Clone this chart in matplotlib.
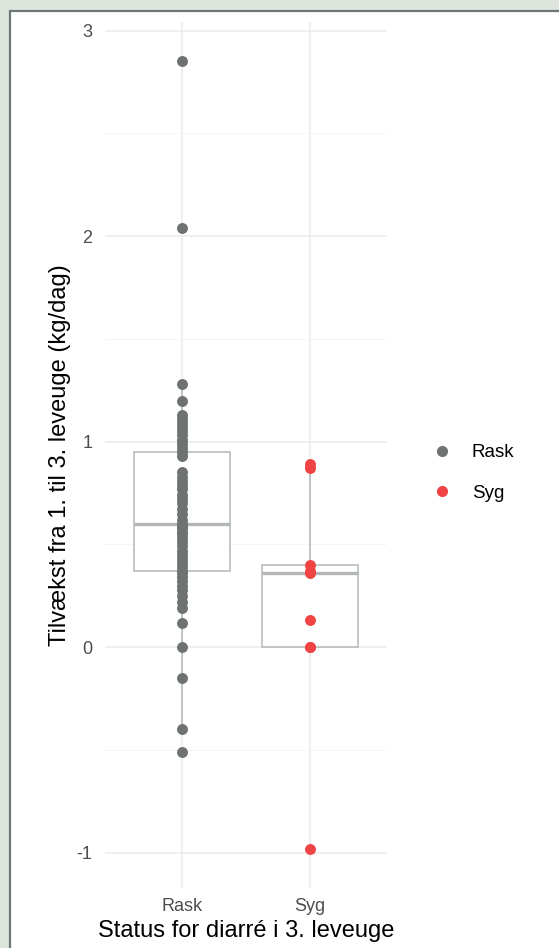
import numpy as np
import matplotlib.pyplot as plt
from matplotlib.patches import Rectangle
from matplotlib.lines import Line2D

plt.rcParams['font.family'] = ['Liberation Sans', 'DejaVu Sans']

groups = ['Rask', 'Syg']
colors = ['#6E7272', '#F04343']

rask = [-0.51, -0.40, -0.15, 0.00, 0.12, 0.19, 0.22, 0.25, 0.28, 0.30, 0.32, 0.34, 0.36,
        0.37, 0.39, 0.41, 0.43, 0.45, 0.47, 0.49, 0.51, 0.53, 0.55, 0.56, 0.58, 0.59,
        0.60, 0.62, 0.65, 0.67, 0.70, 0.72, 0.74, 0.77, 0.79, 0.81, 0.83, 0.85, 0.93,
        0.95, 0.97, 0.99, 1.01, 1.03, 1.05, 1.07, 1.09, 1.11, 1.13, 1.20, 1.28, 2.04, 2.85]
syg = [-0.98, 0.00, 0.00, 0.13, 0.36, 0.37, 0.40, 0.87, 0.89]
data = [rask, syg]

yticks = [-1, 0, 1, 2, 3]

W, H = 559, 948
fig = plt.figure(figsize=(W / 100, H / 100), dpi=100)
fig.patch.set_facecolor('#DDE5DD')
# white panel with dark border (top-left visible)
panel = Rectangle((10 / W, -0.01), 1 - 10 / W + 0.01, 1 - 11 / H + 0.01,
                  transform=fig.transFigure, facecolor='white',
                  edgecolor='#6B7875', linewidth=1.6, zorder=-5)
fig.patches.append(panel)

ax = fig.add_axes([105 / W, 1 - 888 / H, (387 - 105) / W, (888 - 22) / H])
ax.set_facecolor('none')
ax.set_zorder(1)

box_col = '#B3B7B7'
ax.boxplot(data, positions=[1, 2], widths=0.75, showfliers=False, patch_artist=True,
           boxprops=dict(facecolor='white', edgecolor=box_col, linewidth=1.1),
           whiskerprops=dict(color=box_col, linewidth=1.1),
           capprops=dict(linewidth=0),
           medianprops=dict(color=box_col, linewidth=2.4),
           zorder=2)

for i, (vals, c) in enumerate(zip(data, colors)):
    ax.scatter(np.full(len(vals), i + 1), vals, s=62, color=c, zorder=3, linewidths=0)

ax.set_yticks(yticks)
ax.set_yticklabels([str(t) for t in yticks])
ax.set_yticks(np.arange(-1.5, 3.01, 0.5), minor=True)
ax.set_xticks([1, 2])
ax.set_xticklabels(groups)

ax.set_xlim(0.4, 2.6)
lo = min(min(rask), min(syg))
hi = max(max(rask), max(syg))
pad = (hi - lo) * 0.05
ax.set_ylim(lo - pad, hi + pad)

ax.grid(True, which='major', color='#EBEBEB', linewidth=1.1, zorder=0)
ax.grid(True, which='minor', axis='y', color='#F4F4F4', linewidth=0.6, zorder=0)
ax.set_axisbelow(True)
for s in ax.spines.values():
    s.set_visible(False)
ax.tick_params(axis='both', which='both', length=0, labelsize=13, labelcolor='#4D4D4D')
ax.tick_params(axis='x', pad=7)
ax.tick_params(axis='y', pad=9)

ax.set_ylabel('Tilvækst fra 1. til 3. leveuge (kg/dag)', fontsize=17, color='black', labelpad=4)
ax.set_xlabel('Status for diarré i 3. leveuge', fontsize=17, color='black', labelpad=4)

handles = [Line2D([], [], marker='o', linestyle='', markersize=8, color=c,
                  markeredgewidth=0) for c in colors]
fig.legend(handles, groups, loc='center left', bbox_to_anchor=(406 / W, 1 - 473 / H),
           frameon=False, fontsize=13.5, handletextpad=0.6, labelspacing=1.25)

fig.savefig('out.png', dpi=100)
